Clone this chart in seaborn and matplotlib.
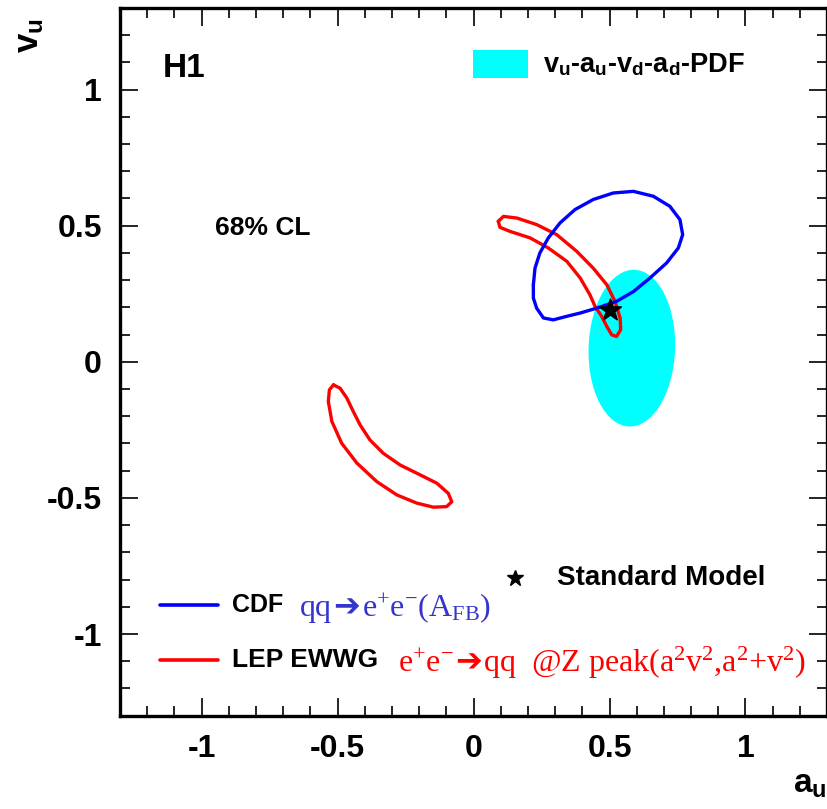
import numpy as np
import pandas as pd
import matplotlib
matplotlib.use('Agg')
import matplotlib.pyplot as plt
import seaborn as sns
from matplotlib.patches import Ellipse, Rectangle
from matplotlib.ticker import MultipleLocator, FuncFormatter
from matplotlib.offsetbox import TextArea, HPacker, AnchoredOffsetbox

# CDF 68% contour (qq -> e+e-, A_FB)
cdf_au = [0.220, 0.226, 0.244, 0.275, 0.318, 0.373, 0.440, 0.514, 0.588, 0.661,
          0.722, 0.759, 0.769, 0.753, 0.710, 0.649, 0.588, 0.526, 0.453, 0.392,
          0.343, 0.293, 0.257, 0.232, 0.220]
cdf_vu = [0.283, 0.344, 0.400, 0.455, 0.510, 0.559, 0.596, 0.620, 0.626, 0.608,
          0.571, 0.522, 0.467, 0.418, 0.363, 0.308, 0.258, 0.222, 0.197, 0.179,
          0.167, 0.154, 0.161, 0.197, 0.234]

# LEP EWWG 68% contour, upper island
lep1_au = [0.091, 0.110, 0.159, 0.232, 0.306, 0.379, 0.440, 0.490, 0.520, 0.539,
           0.541, 0.526, 0.508, 0.490, 0.471, 0.447, 0.428, 0.392, 0.343, 0.275,
           0.208, 0.134, 0.097]
lep1_vu = [0.516, 0.534, 0.528, 0.504, 0.467, 0.406, 0.344, 0.283, 0.222, 0.161,
           0.118, 0.093, 0.099, 0.130, 0.167, 0.203, 0.246, 0.308, 0.369, 0.418,
           0.455, 0.479, 0.494]

# LEP EWWG 68% contour, lower island
lep2_au = [-0.515, -0.491, -0.466, -0.442, -0.417, -0.381, -0.332, -0.270, -0.197,
           -0.135, -0.093, -0.080, -0.099, -0.148, -0.209, -0.282, -0.356, -0.429,
           -0.485, -0.521, -0.534, -0.530]
lep2_vu = [-0.085, -0.097, -0.133, -0.183, -0.232, -0.287, -0.336, -0.379, -0.415,
           -0.446, -0.483, -0.514, -0.532, -0.534, -0.519, -0.489, -0.440, -0.372,
           -0.299, -0.219, -0.146, -0.103]

# H1 fit (vu-au-vd-ad-PDF) 68% ellipse
h1_center = (0.582, 0.050)
h1_width = 0.318
h1_height = 0.576
h1_angle = -2

# Standard Model point
sm_au = [0.50]
sm_vu = [0.19]


def closed(x, y):
    return pd.DataFrame({'au': list(x) + [x[0]], 'vu': list(y) + [y[0]]})


sns.set_theme(style='ticks')
plt.rcParams['font.family'] = ['Liberation Sans', 'DejaVu Sans']
plt.rcParams['font.weight'] = 'bold'
plt.rcParams['axes.unicode_minus'] = False
plt.rcParams['text.color'] = 'black'
plt.rcParams['axes.labelcolor'] = 'black'
plt.rcParams['xtick.color'] = 'black'
plt.rcParams['ytick.color'] = 'black'
plt.rcParams['mathtext.fontset'] = 'custom'
plt.rcParams['mathtext.rm'] = 'Liberation Serif:weight=normal'
plt.rcParams['mathtext.it'] = 'Liberation Serif:italic:weight=normal'
plt.rcParams['mathtext.bf'] = 'Liberation Sans:bold'

fig = plt.figure(figsize=(8.27, 8.09), dpi=100)
ax = fig.add_axes([0.1451, 0.1153, 0.855, 0.875])

ax.add_patch(Ellipse(h1_center, h1_width, h1_height, angle=h1_angle,
                     facecolor='cyan', edgecolor='none', zorder=1))

line_kw = dict(sort=False, estimator=None, lw=2.4, ax=ax,
               solid_joinstyle='round')
sns.lineplot(data=closed(cdf_au, cdf_vu), x='au', y='vu', color='blue',
             zorder=3, **line_kw)
sns.lineplot(data=closed(lep1_au, lep1_vu), x='au', y='vu', color='red',
             zorder=2, **line_kw)
sns.lineplot(data=closed(lep2_au, lep2_vu), x='au', y='vu', color='red',
             zorder=2, **line_kw)
sns.scatterplot(x=sm_au, y=sm_vu, marker='*', s=260, color='black',
                edgecolor='black', ax=ax, zorder=4)

ax.set_xlim(-1.3, 1.3)
ax.set_ylim(-1.3, 1.3)
for a in (ax.xaxis, ax.yaxis):
    a.set_major_locator(MultipleLocator(0.5))
    a.set_minor_locator(MultipleLocator(0.1))
    a.set_major_formatter(FuncFormatter(
        lambda v, p: '0' if abs(v) < 1e-9 else f'{round(v, 2):g}'))
ax.tick_params(which='both', direction='in', top=True, right=True,
               color='black', width=1.2)
ax.tick_params(which='major', length=13, labelsize=23, pad=13)
ax.tick_params(which='minor', length=7)
for s in ax.spines.values():
    s.set_linewidth(2.4)
    s.set_color('black')

ax.set_xlabel(r'$\mathbf{a_u}$', loc='right', fontsize=24, labelpad=4)
ax.set_ylabel(r'$\mathbf{v_u}$', loc='top', fontsize=25)
ax.yaxis.set_label_coords(-0.105, 0.985)

tr = ax.transAxes
ax.text(0.061, 0.915, 'H1', transform=tr, fontsize=24, va='center')
ax.text(0.134, 0.689, '68% CL', transform=tr, fontsize=19, va='center')

ax.add_patch(Rectangle((0.499, 0.901), 0.078, 0.039, transform=tr,
                       facecolor='cyan', edgecolor='none'))
ax.text(0.598, 0.920, r'v$_\mathbf{u}$-a$_\mathbf{u}$-v$_\mathbf{d}$-a$_\mathbf{d}$-PDF',
        transform=tr, fontsize=19.5, va='center')

ax.plot([0.559], [0.194], marker='*', color='black', markersize=12,
        transform=tr, clip_on=False)
ax.text(0.618, 0.194, 'Standard Model', transform=tr, fontsize=20, va='center')


def formula(parts, x, y, color):
    boxes = []
    for s in parts:
        fam = 'DejaVu Sans' if s == '➔' else 'Liberation Serif'
        boxes.append(TextArea(s, textprops=dict(fontsize=23, color=color,
                                                 fontfamily=fam,
                                                 fontweight='normal')))
    pack = HPacker(children=boxes, align='baseline', pad=0, sep=1)
    box = AnchoredOffsetbox(loc='center left', child=pack, pad=0, borderpad=0,
                            frameon=False, bbox_to_anchor=(x, y),
                            bbox_transform=tr)
    ax.add_artist(box)


ax.plot([0.0566, 0.1386], [0.156, 0.156], color='blue', lw=2.6, transform=tr)
ax.text(0.158, 0.156, 'CDF', transform=tr, fontsize=18, va='center')
formula(['qq', '➔', r'e$^{+}$e$^{-}$(A$_\mathrm{FB}$)'], 0.2546, 0.152, '#3535cc')

ax.plot([0.0566, 0.1386], [0.0787, 0.0787], color='red', lw=2.6, transform=tr)
ax.text(0.158, 0.0787, 'LEP EWWG', transform=tr, fontsize=19, va='center')
formula([r'e$^{+}$e$^{-}$', '➔', r'qq  @Z peak(a$^2$v$^2$,a$^2$+v$^2$)'],
        0.393, 0.0747, 'red')

fig.savefig('out.png', dpi=100)
